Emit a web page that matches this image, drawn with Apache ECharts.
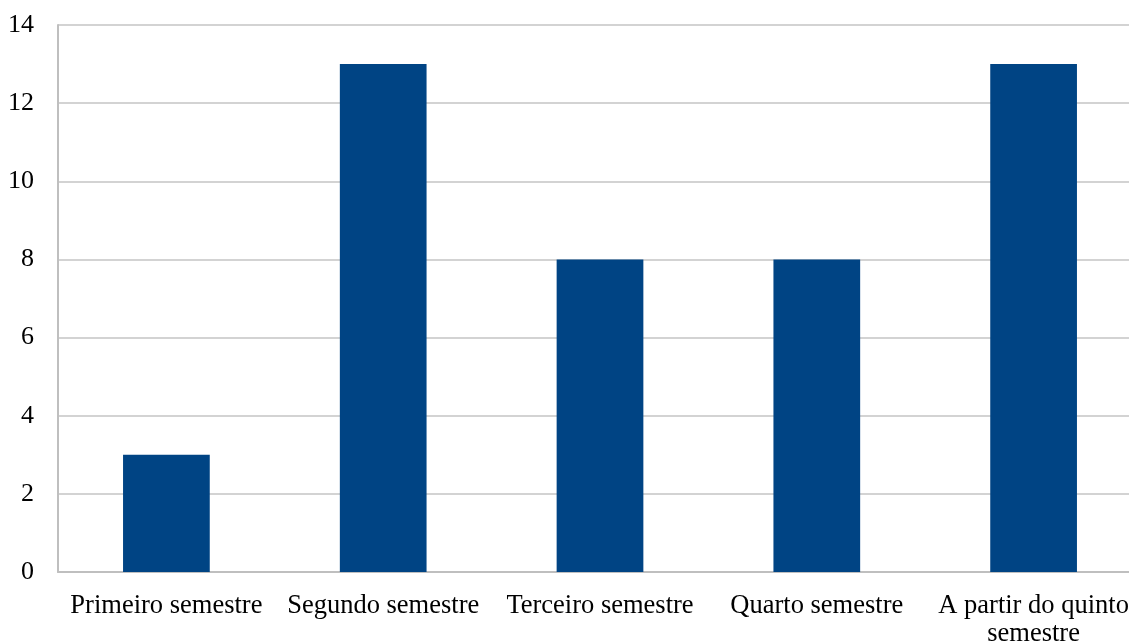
<!DOCTYPE html>
<html>
<head>
<meta charset="utf-8">
<script src="https://cdn.jsdelivr.net/npm/echarts@6/dist/echarts.min.js"></script>
<style>
  html, body { margin: 0; padding: 0; background: #fff; overflow: hidden; }
  /* plot runs slightly past the right edge of the window */
  #chart { width: 1142px; height: 644px; }
</style>
</head>
<body>
<div id="chart"></div>
<script>
const categories = ['Primeiro semestre', 'Segundo semestre', 'Terceiro semestre', 'Quarto semestre', 'A partir do quinto\nsemestre'];
const values = [3, 13, 8, 8, 13];

const chart = echarts.init(document.getElementById('chart'), null, { renderer: 'canvas' });
const font = '"Liberation Serif", "Times New Roman", serif';

chart.setOption({
  animation: false,
  backgroundColor: '#ffffff',
  grid: { left: 58, right: 0, top: 25, bottom: 72, containLabel: false, outerBoundsMode: 'none' },
  xAxis: {
    type: 'category',
    data: categories,
    axisLine: { show: true, lineStyle: { color: '#bfbfbf', width: 2 } },
    axisTick: { show: false },
    axisLabel: {
      color: '#000', fontFamily: font, fontSize: 26.5, margin: 20,
      interval: 0, lineHeight: 28
    }
  },
  yAxis: {
    type: 'value',
    min: 0, max: 14, interval: 2,
    axisLine: { show: true, lineStyle: { color: '#bfbfbf', width: 2 } },
    axisTick: { show: false },
    splitLine: { show: true, lineStyle: { color: '#c4c4c4', width: 1.5 } },
    axisLabel: { color: '#000', fontFamily: font, fontSize: 26, margin: 24 }
  },
  series: [{
    type: 'bar',
    data: values,
    barWidth: '40%',
    itemStyle: { color: '#004484' }
  }]
});
</script>
</body>
</html>
